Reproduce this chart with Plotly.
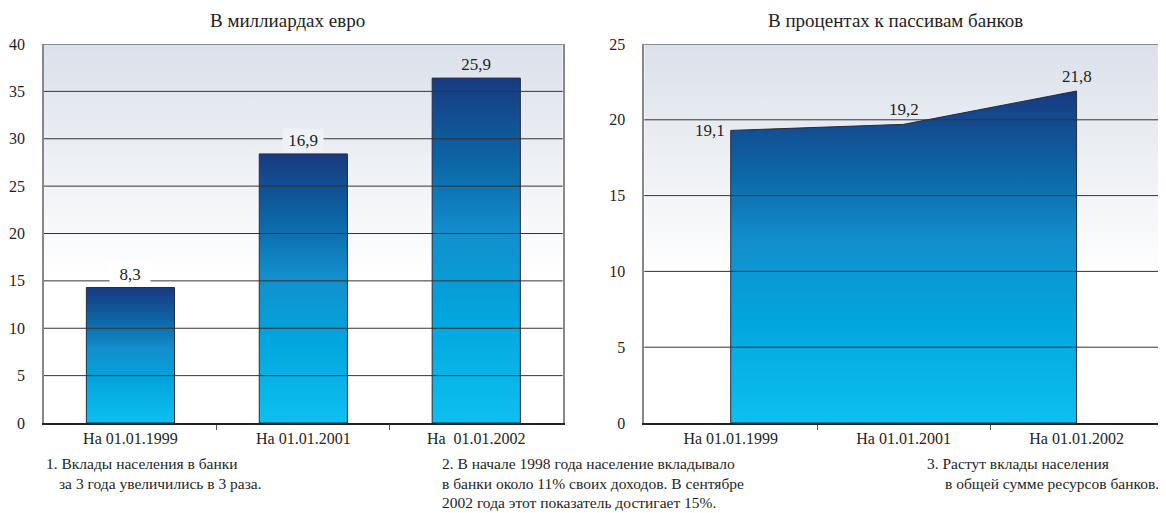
import plotly.graph_objects as go
from plotly.subplots import make_subplots

# ---- data ----
categories = ["На 01.01.1999", "На 01.01.2001", "На  01.01.2002"]
categories_right = ["На 01.01.1999", "На 01.01.2001", "На 01.01.2002"]
bar_values = [14.3, 28.4, 36.4]          # drawn heights (bln EUR axis)
bar_labels = ["8,3", "16,9", "25,9"]     # printed labels
area_values = [19.3, 19.7, 21.9]         # drawn heights (% axis)
area_labels = ["19,1", "19,2", "21,8"]
left_ticks = [0, 5, 10, 15, 20, 25, 30, 35, 40]
right_ticks = [0, 5, 10, 15, 20, 25]
title_left = "В миллиардах евро"
title_right = "В процентах к пассивам банков"
notes = [
    ["1. Вклады населения в банки", "за 3 года увеличились в 3 раза."],
    ["2. В начале 1998 года население вкладывало",
     "в банки около 11% своих доходов. В сентябре",
     "2002 года этот показатель достигает 15%."],
    ["3. Растут вклады населения", "в общей сумме ресурсов банков."],
]

# ---- style ----
FONT = "Liberation Serif"
TXT = "#1e1e1e"
OFF = 8                      # page offset (body margin)
W, H = 1166 - OFF, 513 - OFF
ML, MR, MT = 40 - OFF, 1, 44 - OFF
MB = H - (423 - OFF)
bar_scale = [[0, "#0cc0f0"], [0.3, "#02a6de"], [0.55, "#128fcc"],
             [0.75, "#0c67a7"], [1, "#183a80"]]
bg_scale = [[0, "#ffffff"], [0.38, "#ffffff"], [1, "#dbe1ea"]]
bar_half = 0.255

left_frac = (561 - 40) / (W - ML - MR)
right_start = (643 - 40) / (W - ML - MR)
fig = make_subplots(rows=1, cols=2, horizontal_spacing=right_start - left_frac)

def add_background(col, ymax):
    fig.add_trace(go.Scatter(
        x=[-0.5, 2.5, 2.5, -0.5, -0.5], y=[0, 0, ymax, ymax, 0],
        mode="lines", line=dict(width=0), fill="toself",
        fillgradient=dict(type="vertical", colorscale=bg_scale, start=0, stop=ymax),
        hoverinfo="skip", showlegend=False), row=1, col=col)

add_background(1, left_ticks[-1])
add_background(2, right_ticks[-1])

# bars as gradient-filled polygons
for i, v in enumerate(bar_values):
    fig.add_trace(go.Scatter(
        x=[i - bar_half, i + bar_half, i + bar_half, i - bar_half, i - bar_half],
        y=[0, 0, v, v, 0], mode="lines",
        line=dict(color="#2a2a3a", width=1), fill="toself",
        fillgradient=dict(type="vertical", colorscale=bar_scale),
        hoverinfo="skip", showlegend=False), row=1, col=1)

# area
xs = list(range(len(area_values)))
fig.add_trace(go.Scatter(
    x=[xs[0]] + xs + [xs[-1], xs[0]],
    y=[0] + area_values + [0, 0], mode="lines",
    line=dict(color="#2a2a3a", width=1), fill="toself",
    fillgradient=dict(type="vertical", colorscale=bar_scale),
    hoverinfo="skip", showlegend=False), row=1, col=2)

# gridlines above traces
for v in left_ticks[1:]:
    fig.add_shape(type="line", xref="x domain", yref="y", x0=0, x1=1, y0=v, y1=v,
                  line=dict(color="#333333", width=1), layer="above")
for v in right_ticks[1:]:
    fig.add_shape(type="line", xref="x2 domain", yref="y2", x0=0, x1=1, y0=v, y1=v,
                  line=dict(color="#333333", width=1), layer="above")

# axes
for col, ticks, cats in [(1, left_ticks, categories), (2, right_ticks, categories_right)]:
    fig.update_xaxes(row=1, col=col, range=[-0.5, 2.5], tickvals=[0, 1, 2], ticktext=cats,
                     ticks="", showgrid=False, zeroline=False,
                     showline=True, linecolor="#222222", linewidth=1.5,
                     tickfont=dict(family=FONT, size=16, color=TXT),
                     minor=dict(tickvals=[0.5, 1.5], ticks="outside", ticklen=5,
                                tickcolor="#555555", showgrid=False),
                     fixedrange=True)
    fig.update_yaxes(row=1, col=col, range=[0, ticks[-1]], tickvals=ticks,
                     ticks="", showgrid=False, zeroline=False,
                     showline=True, linecolor="#888888", linewidth=1.5, mirror=True,
                     ticklabelstandoff=14,
                     tickfont=dict(family=FONT, size=16, color=TXT),
                     fixedrange=True)

# value labels
label_bg = ["#ffffff", "#eef1f5", "rgba(0,0,0,0)"]
for i, (v, t) in enumerate(zip(bar_values, bar_labels)):
    fig.add_annotation(x=i, y=v, xref="x", yref="y", text=t, showarrow=False,
                       yanchor="bottom", yshift=1, bgcolor=label_bg[i], borderpad=2,
                       width=36, font=dict(family=FONT, size=17, color=TXT))
fig.add_annotation(x=0, y=area_values[0], xref="x2", yref="y2", text=area_labels[0],
                   showarrow=False, xanchor="right", yanchor="middle", xshift=-4,
                   font=dict(family=FONT, size=17, color=TXT))
for i in (1, 2):
    fig.add_annotation(x=i, y=area_values[i], xref="x2", yref="y2", text=area_labels[i],
                       showarrow=False, yanchor="bottom", yshift=3,
                       font=dict(family=FONT, size=17, color=TXT))

# titles and notes (reference pixel positions -> paper coords)
PW, PH = W - ML - MR, H - MT - MB
def px(x): return (x - OFF - ML) / PW
def py(y): return (H - MB - (y - OFF)) / PH

fig.add_annotation(x=px(285), y=py(21), xref="paper", yref="paper", text=title_left,
                   showarrow=False, xanchor="center", yanchor="middle",
                   font=dict(family=FONT, size=19, color=TXT))
fig.add_annotation(x=px(896), y=py(21), xref="paper", yref="paper", text=title_right,
                   showarrow=False, xanchor="center", yanchor="middle",
                   font=dict(family=FONT, size=19, color=TXT))

note_pos = [[(40, 463), (53, 483)],
            [(438, 463), (438, 483), (438, 502)],
            [(926, 463), (944, 483)]]
for lines, poss in zip(notes, note_pos):
    for t, (x, y) in zip(lines, poss):
        fig.add_annotation(x=px(x), y=py(y), xref="paper", yref="paper", text=t,
                           showarrow=False, xanchor="left", yanchor="middle",
                           font=dict(family=FONT, size=15.5, color=TXT))

fig.update_layout(width=W, height=H, margin=dict(l=ML, r=MR, t=MT, b=MB),
                  paper_bgcolor="white", plot_bgcolor="white", showlegend=False)

fig.write_html("out.html")
